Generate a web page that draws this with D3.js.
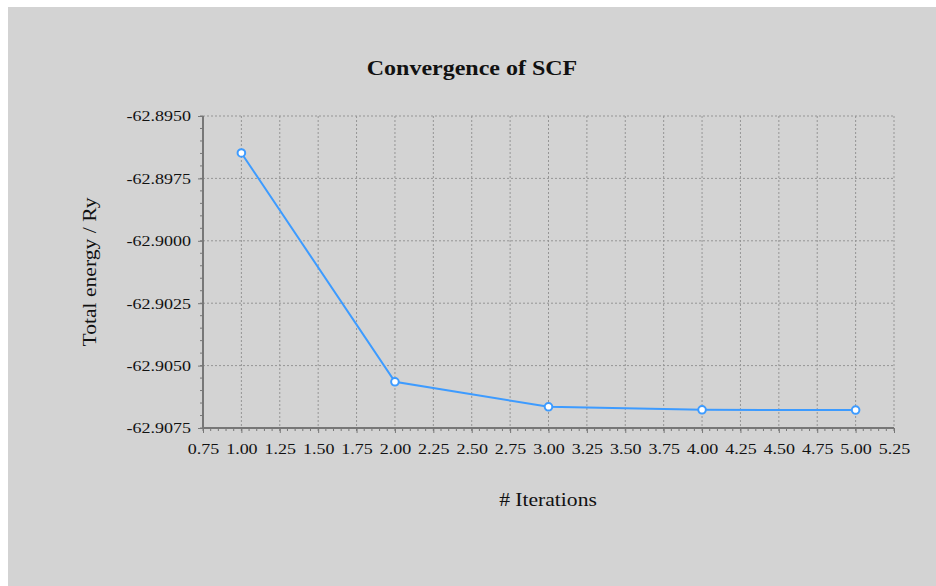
<!DOCTYPE html>
<html><head><meta charset="utf-8">
<script src="https://cdn.jsdelivr.net/npm/d3@7"></script>
<style>body{margin:0;background:#fff;}svg{display:block;}</style>
</head><body>
<svg id="c" width="936" height="586"></svg>
<script>
const iterations = [1, 2, 3, 4, 5];
const energies = [-62.89648, -62.90565, -62.90665, -62.90677, -62.90678];
const xTicks = [0.75,1.00,1.25,1.50,1.75,2.00,2.25,2.50,2.75,3.00,3.25,3.50,3.75,4.00,4.25,4.50,4.75,5.00,5.25];
const yTicks = [-62.8950,-62.8975,-62.9000,-62.9025,-62.9050,-62.9075];
const title = "Convergence of SCF";
const xLabel = "# Iterations";
const yLabel = "Total energy / Ry";

const svg = d3.select("#c");
const font = "'Liberation Serif','Times New Roman',serif";
const SX = 1.2;
svg.append("rect").attr("x",8).attr("y",7).attr("width",928).attr("height",579).attr("fill","#d3d3d3");

const L=203, R=894, T=116, B=428;
const x = d3.scaleLinear().domain([0.75,5.25]).range([L,R]);
const y = d3.scaleLinear().domain([-62.9075,-62.8950]).range([B,T]);

// grid
const g = svg.append("g");
g.selectAll(".vg").data(xTicks.filter(d=>d>0.75)).join("line")
 .attr("x1",d=>x(d)).attr("x2",d=>x(d)).attr("y1",T).attr("y2",B)
 .attr("stroke","#959595").attr("stroke-width",1).attr("stroke-dasharray","2,2");
g.selectAll(".hg").data(yTicks.filter(d=>d>-62.9075)).join("line")
 .attr("x1",L).attr("x2",R).attr("y1",d=>y(d)).attr("y2",d=>y(d))
 .attr("stroke","#959595").attr("stroke-width",1).attr("stroke-dasharray","2,2");

// minor ticks
const xMinor = d3.range(0.75,5.25001,0.05);
svg.append("g").selectAll("line").data(xMinor).join("line")
 .attr("x1",d=>x(d)).attr("x2",d=>x(d)).attr("y1",B).attr("y2",B+3)
 .attr("stroke","#777");
const yMinor = d3.range(0,26).map(i=>-62.9075+i*0.0005);
svg.append("g").selectAll("line").data(yMinor).join("line")
 .attr("x1",L-3).attr("x2",L).attr("y1",d=>y(d)).attr("y2",d=>y(d))
 .attr("stroke","#777");

// axes
const xAxis = d3.axisBottom(x).tickValues(xTicks).tickFormat(d=>d.toFixed(2)).tickSize(5).tickPadding(10);
const yAxis = d3.axisLeft(y).tickValues(yTicks).tickFormat(d=>d.toFixed(4)).tickSize(5).tickPadding(6);
const gx = svg.append("g").attr("transform",`translate(0,${B})`).call(xAxis);
const gy = svg.append("g").attr("transform",`translate(${L},0)`).call(yAxis);
[gx,gy].forEach(a=>{
  a.select(".domain").attr("stroke","#777").attr("stroke-width",2);
  a.selectAll(".tick line").attr("stroke","#777");
  a.selectAll(".tick text").attr("font-family",font).attr("font-size",15).attr("fill","#111");
});
gx.selectAll(".tick text").attr("transform",`scale(${SX},1)`);
gy.selectAll(".tick text").attr("x",-12/SX).attr("transform",`scale(${SX},1)`);
gx.select(".domain").attr("d",`M${L},0H${R}`);
gy.select(".domain").attr("d",`M0,${T}V${B}`);

// line
svg.append("path").datum(iterations.map((d,i)=>[d,energies[i]]))
 .attr("d",d3.line().x(d=>x(d[0])).y(d=>y(d[1])))
 .attr("fill","none").attr("stroke","#3d9bff").attr("stroke-width",2);
svg.append("g").selectAll("circle").data(iterations.map((d,i)=>[d,energies[i]])).join("circle")
 .attr("cx",d=>x(d[0])).attr("cy",d=>y(d[1])).attr("r",3.8)
 .attr("fill","#fff").attr("stroke","#3d9bff").attr("stroke-width",2);

// labels
svg.append("text").attr("transform",`translate(472,75) scale(${SX},1)`).attr("text-anchor","middle")
 .attr("font-family",font).attr("font-weight","bold").attr("font-size",20).attr("fill","#111").text(title);
svg.append("text").attr("transform",`translate(548,506) scale(${SX},1)`).attr("text-anchor","middle")
 .attr("font-family",font).attr("font-size",18).attr("fill","#111").text(xLabel);
svg.append("text").attr("transform",`translate(96,272) rotate(-90) scale(${SX},1)`).attr("text-anchor","middle")
 .attr("font-family",font).attr("font-size",18).attr("fill","#111").text(yLabel);
</script>
</body></html>
